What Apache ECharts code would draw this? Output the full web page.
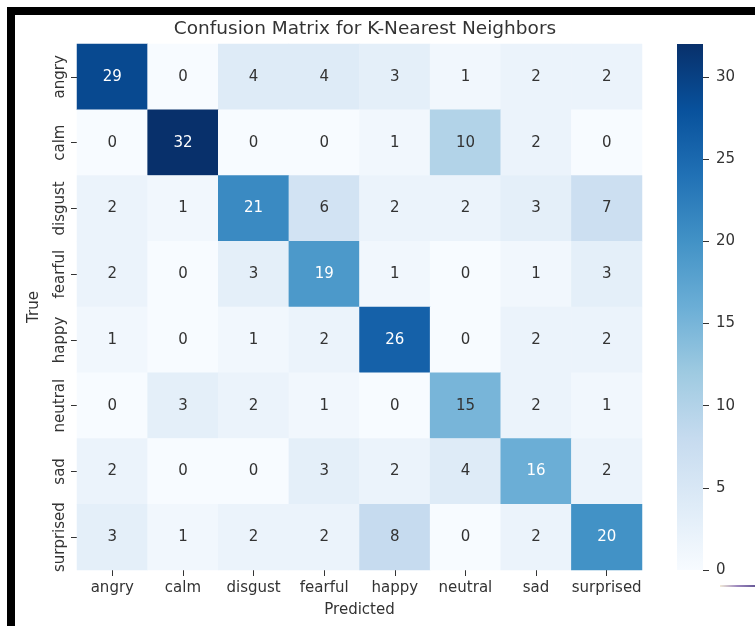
<!DOCTYPE html>
<html>
<head>
<meta charset="utf-8">
<script src="https://cdn.jsdelivr.net/npm/echarts@6/dist/echarts.min.js"></script>
<style>
  html, body { margin: 0; padding: 0; background: #fff; }
  #main { width: 755px; height: 626px; }
</style>
</head>
<body>
<div id="main"></div>
<script>
var labels = ['angry', 'calm', 'disgust', 'fearful', 'happy', 'neutral', 'sad', 'surprised'];

// rows = true class, columns = predicted class
var rowAngry     = [29, 0, 4, 4, 3, 1, 2, 2];
var rowCalm      = [0, 32, 0, 0, 1, 10, 2, 0];
var rowDisgust   = [2, 1, 21, 6, 2, 2, 3, 7];
var rowFearful   = [2, 0, 3, 19, 1, 0, 1, 3];
var rowHappy     = [1, 0, 1, 2, 26, 0, 2, 2];
var rowNeutral   = [0, 3, 2, 1, 0, 15, 2, 1];
var rowSad       = [2, 0, 0, 3, 2, 4, 16, 2];
var rowSurprised = [3, 1, 2, 2, 8, 0, 2, 20];

var colorbarTicks = [0, 5, 10, 15, 20, 25, 30];
var vmin = 0, vmax = 32;

var rows = [rowAngry, rowCalm, rowDisgust, rowFearful, rowHappy, rowNeutral, rowSad, rowSurprised];
var blues = ['#f7fbff', '#deebf7', '#c6dbef', '#9ecae1', '#6baed6', '#4292c6', '#2171b5', '#08519c', '#08306b'];
var textDark = '#333333';
var font = 'DejaVu Sans';

var data = [];
rows.forEach(function (r, yi) {
    r.forEach(function (v, xi) {
        data.push({
            value: [xi, yi, v],
            label: { color: v >= 16 ? '#ffffff' : textDark }
        });
    });
});

var chart = echarts.init(document.getElementById('main'));
chart.setOption({
    animation: false,
    backgroundColor: '#fff',
    title: {
        text: 'Confusion Matrix for K-Nearest Neighbors',
        left: 360,
        textAlign: 'center',
        top: 15,
        textStyle: { fontFamily: font, fontSize: 18.5, fontWeight: 'normal', color: textDark }
    },
    grid: [
        { left: 77, top: 44, width: 565, height: 526 },
        { left: 677, top: 44, width: 26, height: 526 }
    ],
    xAxis: [
        {
            type: 'category',
            gridIndex: 0,
            data: labels,
            name: 'Predicted',
            nameLocation: 'middle',
            nameGap: 33,
            nameTextStyle: { fontFamily: font, fontSize: 15, color: textDark },
            axisLine: { show: false },
            axisTick: { show: true, alignWithLabel: true, length: 6, lineStyle: { color: textDark } },
            axisLabel: { fontFamily: font, fontSize: 15, color: textDark, margin: 11, interval: 0 },
            splitLine: { show: false }
        },
        {
            type: 'category',
            gridIndex: 1,
            data: [''],
            show: false
        }
    ],
    yAxis: [
        {
            type: 'category',
            gridIndex: 0,
            data: labels,
            inverse: true,
            name: 'True',
            nameLocation: 'middle',
            nameGap: 35,
            nameTextStyle: { fontFamily: font, fontSize: 15, color: textDark },
            axisLine: { show: false },
            axisTick: { show: true, alignWithLabel: true, length: 6, lineStyle: { color: textDark } },
            axisLabel: { fontFamily: font, fontSize: 15, color: textDark, rotate: 90, margin: 9, interval: 0 },
            splitLine: { show: false }
        },
        {
            type: 'value',
            gridIndex: 1,
            position: 'right',
            min: vmin,
            max: vmax,
            axisLine: { show: false },
            axisTick: { show: true, length: 6, lineStyle: { color: textDark }, customValues: colorbarTicks },
            axisLabel: { fontFamily: font, fontSize: 15, color: textDark, margin: 13, customValues: colorbarTicks },
            splitLine: { show: false }
        }
    ],
    visualMap: {
        show: false,
        type: 'continuous',
        min: vmin,
        max: vmax,
        dimension: 2,
        seriesIndex: 0,
        inRange: { color: blues }
    },
    series: [
        {
            type: 'heatmap',
            xAxisIndex: 0,
            yAxisIndex: 0,
            data: data,
            label: { show: true, fontFamily: font, fontSize: 15, formatter: function (p) { return p.value[2]; } },
            itemStyle: { borderWidth: 0 },
            emphasis: { disabled: true }
        },
        {
            type: 'bar',
            xAxisIndex: 1,
            yAxisIndex: 1,
            barWidth: '100%',
            data: [vmax],
            silent: true,
            itemStyle: {
                color: new echarts.graphic.LinearGradient(0, 0, 0, 1, blues.slice().reverse().map(function (c, i, a) {
                    return { offset: i / (a.length - 1), color: c };
                }))
            }
        }
    ],
    graphic: [
        { type: 'rect', shape: { x: 7, y: 7, width: 748, height: 8 }, style: { fill: '#000' }, silent: true },
        { type: 'rect', shape: { x: 7, y: 7, width: 8, height: 619 }, style: { fill: '#000' }, silent: true },
        {
            type: 'line',
            shape: { x1: 720, y1: 586, x2: 755, y2: 586 },
            style: {
                lineWidth: 1.5,
                stroke: new echarts.graphic.LinearGradient(0, 0, 1, 0, [
                    { offset: 0, color: '#fdf6d0' },
                    { offset: 0.5, color: '#7b5fa8' },
                    { offset: 1, color: '#2c1a6e' }
                ])
            },
            silent: true
        }
    ]
});
</script>
</body>
</html>
